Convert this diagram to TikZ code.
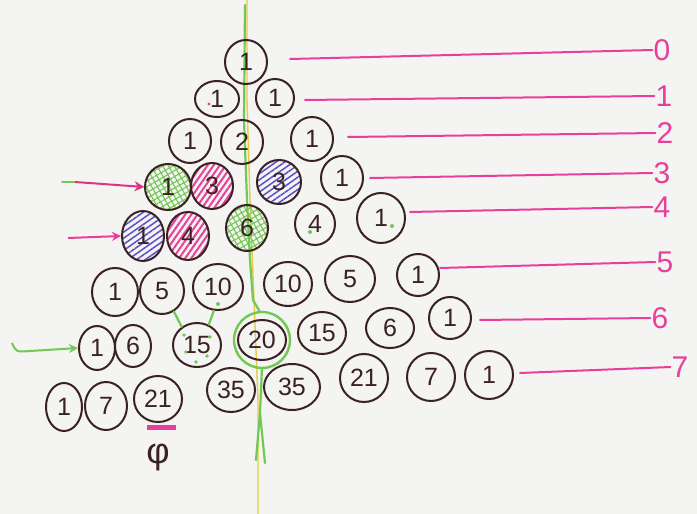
\documentclass[tikz,border=0pt]{standalone}
\usepackage{fontspec}
\setmainfont{Liberation Sans}
\usetikzlibrary{shapes.geometric,patterns.meta,arrows.meta}
\definecolor{ink}{HTML}{3A2222}
\definecolor{hotpink}{HTML}{E8409A}
\definecolor{penblue}{HTML}{5A4FC8}
\definecolor{pengreen}{HTML}{72C855}
\definecolor{penyellow}{HTML}{E8C848}
\definecolor{paper}{HTML}{F4F4F2}
\tikzset{
  num/.style={ellipse, draw=ink, line width=2pt, inner sep=0pt,
    minimum width=42pt, minimum height=44pt, text=ink,
    font=\fontsize{25}{27}\selectfont},
  wide/.style={minimum width=50pt},
  pinkfill/.style={pattern={Lines[angle=55,distance=5pt,line width=2pt]}, pattern color=hotpink},
  bluefill/.style={pattern={Lines[angle=35,distance=5pt,line width=1.5pt]}, pattern color=penblue},
  greenfill/.style={pattern={Hatch[angle=30,distance=5pt,line width=1.1pt]}, pattern color=pengreen},
  rowline/.style={draw=hotpink, line width=2pt, line cap=round},
  rowlab/.style={text=hotpink, font=\fontsize{30}{32}\selectfont, inner sep=1pt},
  greenpen/.style={draw=pengreen, line width=2.2pt, line cap=round},
  gdot/.style={fill=pengreen, draw=none}
}
\begin{document}
\begin{tikzpicture}[x=1pt,y=-1pt]
\fill[paper] (0,0) rectangle (697,514);
\useasboundingbox (0,0) rectangle (697,514);
% yellow and green vertical lines
\draw[penyellow, line width=1.4pt] (247,0) -- (247,100) -- (250,200) -- (254,300) -- (258,400) -- (258,514);
\draw[greenpen] (245,5) -- (244,120) -- (247,200) -- (250,260) -- (253,300) -- (260,312);
\draw[greenpen] (262,368) -- (260,413) -- (256,460);
\draw[greenpen] (260,413) -- (265,463);
% row 0
\node[num, minimum width=42pt, minimum height=44pt] (a0) at (246,62) {1};
% row 1
\node[num, minimum width=44pt, minimum height=36pt] (b0) at (217,99) {1};
\node[num, minimum width=38pt, minimum height=38pt] (b1) at (275,98) {1};
% row 2
\node[num] (c0) at (190,141) {1};
\node[num] (c1) at (242,142) {2};
\node[num] (c2) at (312,139) {1};
% row 3
\node[num, greenfill, minimum width=46pt, minimum height=46pt] (d0) at (168,187) {1};
\node[num, pinkfill, minimum height=46pt] (d1) at (212,186) {3};
\node[num, bluefill, minimum width=44pt] (d2) at (279,182) {3};
\node[num] (d3) at (342,178) {1};
% row 4
\node[num, bluefill, minimum height=50pt] (e0) at (143,236) {1};
\node[num, pinkfill, minimum height=48pt] (e1) at (188,236) {4};
\node[num, greenfill, minimum height=46pt] (e2) at (247,228) {6};
\node[num, minimum width=40pt, minimum height=42pt] (e3) at (315,224) {4};
\node[num, minimum width=48pt, minimum height=50pt] (e4) at (381,218) {1};
% row 5
\node[num, minimum width=46pt, minimum height=48pt] (f0) at (115,292) {1};
\node[num, minimum width=44pt, minimum height=46pt] (f1) at (162,291) {5};
\node[num, wide, minimum height=46pt] (f2) at (218,287) {10};
\node[num, minimum width=48pt] (f3) at (288,284) {10};
\node[num, wide, minimum height=46pt] (f4) at (350,279) {5};
\node[num, minimum height=42pt] (f5) at (418,275) {1};
% row 6
\node[num, minimum width=36pt, minimum height=44pt] (g0) at (97,348) {1};
\node[num, minimum width=36pt, minimum height=42pt] (g1) at (133,346) {6};
\node[num, minimum width=48pt, minimum height=44pt] (g2) at (197,345) {15};
\node[num, minimum width=48pt, minimum height=40pt] (g3) at (262,340) {20};
\node[num, minimum width=48pt, minimum height=42pt] (g4) at (322,333) {15};
\node[num, minimum width=48pt, minimum height=40pt] (g5) at (390,328) {6};
\node[num, minimum height=42pt] (g6) at (450,318) {1};
% row 7
\node[num, minimum width=36pt, minimum height=48pt] (h0) at (64,407) {1};
\node[num, minimum width=42pt, minimum height=48pt] (h1) at (106,406) {7};
\node[num, minimum width=48pt, minimum height=46pt] (h2) at (158,399) {21};
\node[num, minimum width=48pt, minimum height=44pt] (h3) at (231,390) {35};
\node[num, minimum width=56pt, minimum height=46pt] (h4) at (292,387) {35};
\node[num, minimum width=48pt, minimum height=48pt] (h5) at (364,378) {21};
\node[num, minimum width=48pt, minimum height=48pt] (h6) at (431,377) {7};
\node[num, minimum width=48pt, minimum height=48pt] (h7) at (489,375) {1};
% green ring around 20
\draw[pengreen, line width=2.4pt] (g3.center) circle (28pt);
% green links 5,10 -> 15
\draw[greenpen] (f1.-60) -- (g2.130);
\draw[greenpen] (f2.-100) -- (g2.60);
% green dots
\fill[gdot] (218,304) circle (2pt);
\fill[gdot] (184,335) circle (1.8pt) (210,337) circle (1.8pt) (186,352) circle (1.8pt) (207,356) circle (1.8pt) (196,362) circle (1.8pt);
\fill[gdot] (310,232) circle (2pt);
\fill[gdot] (392,226) circle (2pt);
\fill[hotpink] (209,104) circle (1.6pt);
% row labels
\node[rowlab] (l0) at (662,50) {0};
\node[rowlab] (l1) at (664,96) {1};
\node[rowlab] (l2) at (665,133) {2};
\node[rowlab] (l3) at (662,173) {3};
\node[rowlab] (l4) at (662,207) {4};
\node[rowlab] (l5) at (665,262) {5};
\node[rowlab] (l6) at (660,318) {6};
\node[rowlab] (l7) at (680,367) {7};
\coordinate (s0) at (290,59);
\coordinate (s1) at (305,100);
\coordinate (s2) at (348,137);
\coordinate (s3) at (370,178);
\coordinate (s4) at (410,212);
\coordinate (s5) at (440,268);
\coordinate (s6) at (480,320);
\coordinate (s7) at (520,373);
\draw[rowline] (s0) -- (l0.west);
\draw[rowline] (s1) -- (l1.west);
\draw[rowline] (s2) -- (l2.west);
\draw[rowline] (s3) -- (l3.west);
\draw[rowline] (s4) -- (l4.west);
\draw[rowline] (s5) -- (l5.west);
\draw[rowline] (s6) -- (l6.west);
\draw[rowline] (s7) -- (l7.west);
% side arrows
\coordinate (t3) at (62,182);
\coordinate (t3g) at (75,182);
\draw[pengreen, line width=1.8pt, line cap=round] (t3) -- (t3g);
\draw[hotpink!80!purple, line width=2pt, -{Stealth[length=10pt,width=10pt]}] (t3g) -- (d0.west);
\coordinate (t4) at (68,238);
\draw[hotpink, line width=2pt, -{Stealth[length=9pt,width=9pt]}] (t4) -- (e0.west);
\coordinate (t6) at (12,343);
\draw[pengreen, line width=2pt, -{Stealth[length=9pt,width=9pt]}] (t6) .. controls (16,352) .. (30,351) -- (g0.west);
% underline and symbol
\coordinate (u1) at (147,427);
\coordinate (u2) at (176,427);
\draw[hotpink, line width=5pt] (u1) -- (u2);
\node[text=ink, font=\fontsize{36}{38}\selectfont] (phi) at (158,458) {φ};
\end{tikzpicture}
\end{document}
